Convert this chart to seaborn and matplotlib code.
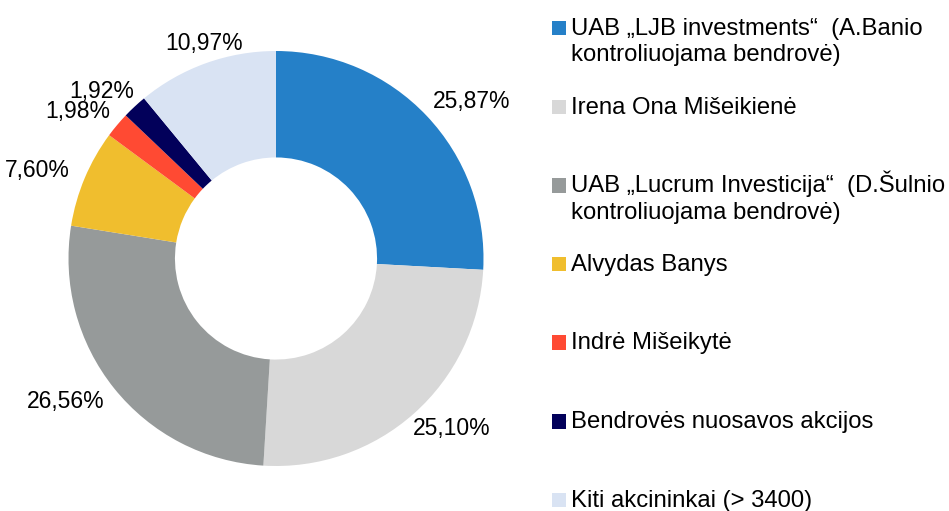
import numpy as np
import matplotlib
matplotlib.use("Agg")
import matplotlib.pyplot as plt
import seaborn as sns
from matplotlib.patches import Rectangle

sns.set_theme(style="white")
plt.rcParams['font.family'] = ['Liberation Sans', 'DejaVu Sans']

# ---- data ----
categories = [
    "UAB „LJB investments“  (A.Banio\nkontroliuojama bendrovė)",
    "Irena Ona Mišeikienė",
    "UAB „Lucrum Investicija“  (D.Šulnio\nkontroliuojama bendrovė)",
    "Alvydas Banys",
    "Indrė Mišeikytė",
    "Bendrovės nuosavos akcijos",
    "Kiti akcininkai (> 3400)",
]
values = [25.87, 25.10, 26.56, 7.60, 1.98, 1.92, 10.97]
value_labels = ["25,87%", "25,10%", "26,56%", "7,60%", "1,98%", "1,92%", "10,97%"]
colors = ["#2580C8", "#D8D8D8", "#969A9A", "#F0BE2E", "#FF4A33", "#02005A", "#D9E3F3"]

W, H = 949, 511
fig = plt.figure(figsize=(W / 100, H / 100), dpi=100)
fig.patch.set_facecolor("white")

cx, cy, R = 276, 258.5, 207.5
ax = fig.add_axes([(cx - R) / W, (H - cy - R) / H, 2 * R / W, 2 * R / H])
wedges, _ = ax.pie(values, colors=colors, startangle=90, counterclock=False,
                   radius=1, wedgeprops=dict(width=0.513, edgecolor="none", linewidth=0))
ax.set_xlim(-1, 1)
ax.set_ylim(-1, 1)
ax.set_aspect("equal")
ax.axis("off")

# data labels placed just outside each wedge
for w, lab in zip(wedges, value_labels):
    ang = np.deg2rad((w.theta1 + w.theta2) / 2)
    c, s = np.cos(ang), np.sin(ang)
    half_w = 0.031 * len(lab)
    k = 1.6 * np.clip((abs(c) - 0.3) / 0.4, 0, 1)
    x = c * (1 + k * half_w)
    y = 1.1 * s
    ax.text(x, y, lab, ha="center", va="center", fontsize=16.5, color="#000000",
            clip_on=False)

# legend drawn as text rows
base0, pitch, line_pitch = 35, 78.6, 26.5
sq = 14.5
for i, (lab, col) in enumerate(zip(categories, colors)):
    b = base0 + i * pitch
    fig.patches.append(Rectangle((551.5 / W, (H - b - 0.5) / H), sq / W, sq / H,
                                 transform=fig.transFigure, facecolor=col,
                                 edgecolor="none"))
    for j, line in enumerate(lab.split("\n")):
        fig.text(571 / W, (H - (b + j * line_pitch)) / H, line, ha="left",
                 va="baseline", fontsize=17.2, color="#000000")

fig.savefig("out.png", dpi=100, facecolor="white")
